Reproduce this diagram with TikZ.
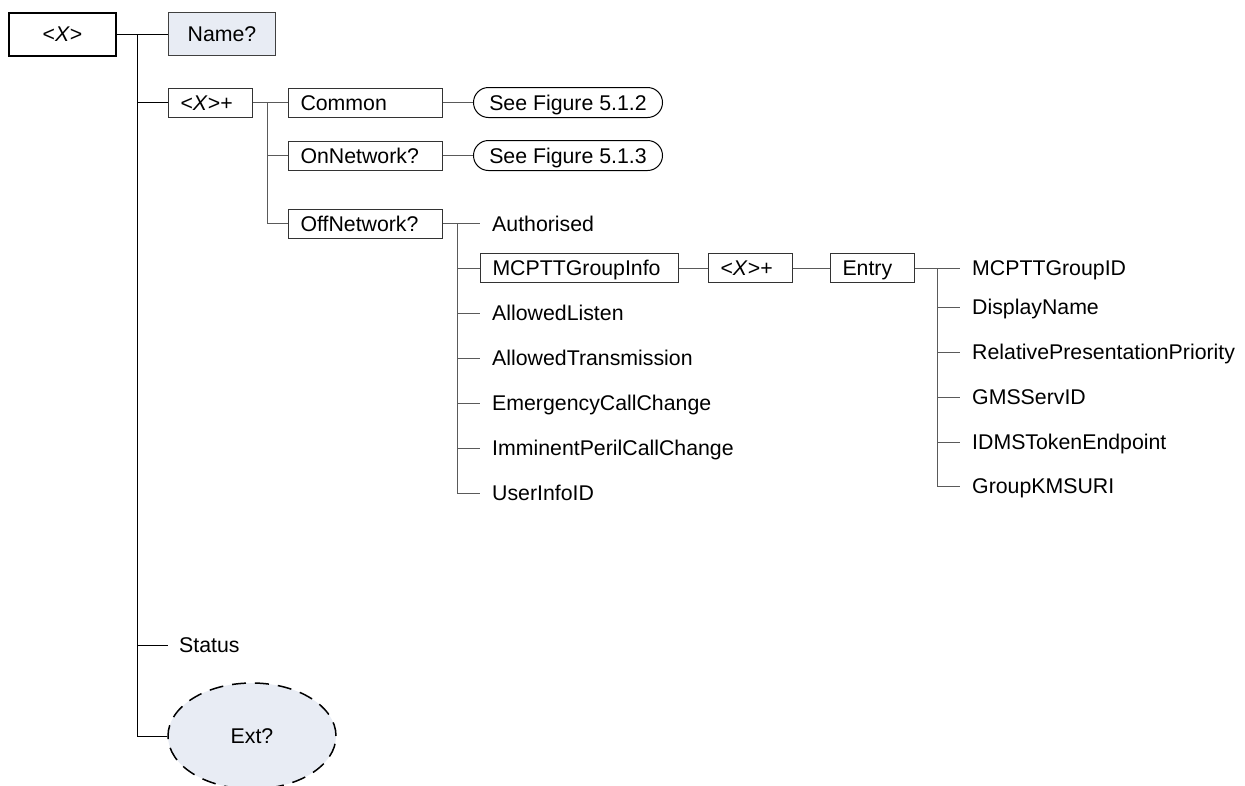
\documentclass[tikz,border=0pt]{standalone}
\usepackage{fontspec}
\setmainfont{Liberation Sans}
\usetikzlibrary{shapes.geometric}
\definecolor{boxfill}{RGB}{232,236,244}
\definecolor{linegray}{RGB}{90,90,90}
\begin{document}
\begin{tikzpicture}[x=1pt,y=-1pt,
  every node/.style={font=\fontsize{21.3}{25}\selectfont, text height=15pt, text depth=0pt},
  box/.style={draw=black!80, line width=1pt, inner ysep=0pt, inner xsep=12pt, minimum height=29pt, anchor=west, align=left},
  bigbox/.style={draw=black, line width=1pt, inner sep=0pt, minimum height=43pt, minimum width=107pt, anchor=west, align=center},
  pill/.style={draw=black, line width=1pt, rounded corners=15pt, inner sep=0pt, minimum height=30pt, minimum width=189pt, anchor=west},
  leaf/.style={inner xsep=12pt, inner ysep=0pt, anchor=west},
  conn/.style={line width=1pt, black},
  subconn/.style={line width=1pt, linegray}]
\useasboundingbox (0,0) rectangle (1245,785);
% root level
\node[bigbox, line width=2pt] (root) at (8,34) {<\textit{X}>};
\node[bigbox, fill=boxfill, draw=black!75] (name) at (168,34) {Name?};
\node[box, text width=60pt] (xp1) at (168,102.5) {<\textit{X}>+};
\node[leaf, inner xsep=11pt] (status) at (168,645) {Status};
\node[ellipse, draw=black, line width=1.5pt, dash pattern=on 14pt off 9pt, fill=boxfill, minimum width=168pt, minimum height=106pt, inner sep=0pt] (ext) at (252,736) {Ext?};
\coordinate (t0) at (137,34);
\coordinate (t1) at (137,736);
\draw[conn] (root.east) -- (name.west);
\draw[conn] (t0) -- (t1) -- (ext.west);
\draw[conn] (xp1.west -| t0) -- (xp1.west);
\draw[conn] (status.west -| t0) -- (status.west);
% <X>+ children
\node[box, text width=130pt] (common) at (288,102.5) {Common};
\node[box, text width=130pt] (onnet) at (288,155.5) {OnNetwork?};
\node[box, text width=130pt] (offnet) at (288,223.5) {OffNetwork?};
\node[pill] (see2) at (473,102.5) {See Figure 5.1.2};
\node[pill] (see3) at (473,155.5) {See Figure 5.1.3};
\coordinate (v1) at (267,102.5);
\draw[subconn] (xp1.east) -- (common.west);
\draw[subconn] (v1) -- (offnet.west -| v1) -- (offnet.west);
\draw[subconn] (onnet.west -| v1) -- (onnet.west);
\draw[subconn] (common.east) -- (see2.west);
\draw[subconn] (onnet.east) -- (see3.west);
% OffNetwork children
\node[leaf] (auth) at (480,223.5) {Authorised};
\node[box, text width=174pt] (mgi) at (480,268) {MCPTTGroupInfo};
\node[leaf] (alisten) at (480,313) {AllowedListen};
\node[leaf] (atrans) at (480,358) {AllowedTransmission};
\node[leaf] (emerg) at (480,403) {EmergencyCallChange};
\node[leaf] (immin) at (480,448) {ImminentPerilCallChange};
\node[leaf] (uinfo) at (480,493) {UserInfoID};
\coordinate (v2) at (457,223.5);
\draw[subconn] (offnet.east) -- (auth.west);
\draw[subconn] (v2) -- (uinfo.west -| v2) -- (uinfo.west);
\foreach \n in {mgi,alisten,atrans,emerg,immin}
  \draw[subconn] (\n.west -| v2) -- (\n.west);
% MCPTTGroupInfo chain
\node[box, text width=60pt] (xp2) at (708,268) {<\textit{X}>+};
\node[box, text width=60pt] (entry) at (830,268) {Entry};
\draw[subconn] (mgi.east) -- (xp2.west);
\draw[subconn] (xp2.east) -- (entry.west);
% Entry children
\node[leaf] (gid) at (960,268) {MCPTTGroupID};
\node[leaf] (dname) at (960,307) {DisplayName};
\node[leaf] (rpp) at (960,352) {RelativePresentationPriority};
\node[leaf] (gms) at (960,397) {GMSServID};
\node[leaf] (idms) at (960,442) {IDMSTokenEndpoint};
\node[leaf] (kms) at (960,486) {GroupKMSURI};
\coordinate (v3) at (937,268);
\draw[subconn] (entry.east) -- (gid.west);
\draw[subconn] (v3) -- (kms.west -| v3) -- (kms.west);
\foreach \n in {dname,rpp,gms,idms}
  \draw[subconn] (\n.west -| v3) -- (\n.west);
\end{tikzpicture}
\end{document}
